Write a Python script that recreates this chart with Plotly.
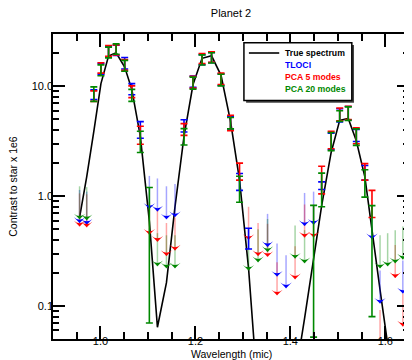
import plotly.graph_objects as go

# ---------------- data ----------------
wavelength = [0.956, 0.971, 0.986, 1.001, 1.017, 1.033, 1.051, 1.066, 1.084, 1.103,
              1.120, 1.139, 1.157, 1.176, 1.195, 1.214, 1.234, 1.254, 1.274, 1.293,
              1.312, 1.332, 1.352, 1.372, 1.391, 1.410, 1.430, 1.449, 1.466, 1.486,
              1.504, 1.522, 1.539, 1.557, 1.572, 1.589, 1.605, 1.621, 1.637]

true_spectrum = [0.64, 1.5, 3.9, 10.6, 18.9, 20.2, 15.0, 9.4, 3.5, 0.59,
                 0.064, 0.163, 0.8, 3.5, 10.4, 18.0, 19.0, 12.6, 4.8, 1.4,
                 0.22, 0.015, 0.007, 0.006, 0.008, 0.022, 0.077, 0.26, 0.82, 2.5,
                 4.9, 5.1, 3.2, 1.5, 0.47, 0.14, 0.045, 0.015, 0.01]

# value and 1-sigma error; error None => value is an upper limit; value None => no point
tloci_val = [1.14, 1.1, 8.45, 14.5, 20.8, 21.4, 16.35, 9.5, 4.07, 1.53,
             1.45, 1.23, 1.29, 4.4, 11.1, 17.6, 18.4, 11.6, 4.7, 1.37,
             0.42, None, 0.69, 0.37, 0.29, None, 1.07, 1.1, 1.25, 3.2,
             5.5, 5.75, 3.6, 1.65, 0.81, 0.21, None, None, 0.26]
tloci_err = [None, None, 0.85, 1.65, 2.3, 2.3, 1.95, 1.1, 0.7, None,
             None, None, None, 0.56, 1.3, 1.85, 1.95, 1.4, 0.6, 0.24,
             0.09, None, None, None, None, None, None, None, 0.1, 0.55,
             0.75, 0.8, 0.45, 0.25, None, None, None, None, None]

pca5_val = [1.06, 1.04, 8.2, 14.8, 21.2, 21.6, 15.8, 9.0, 3.65, 0.89,
            0.77, 0.57, 0.64, 4.08, 11.0, 18.0, 18.6, 11.8, 4.7, 1.7,
            0.80, 0.57, 0.56, 0.25, None, 0.35, 0.84, 0.84, 1.46, 3.3,
            5.6, 5.8, 3.6, 1.69, 0.885, 0.092, None, 0.36, 0.13]
pca5_err = [None, None, 0.9, 1.6, 2.4, 2.3, 1.8, 1.1, 0.68, None,
            None, None, None, 0.5, 1.35, 1.9, 2.0, 1.4, 0.75, 0.3,
            None, None, None, None, None, None, None, None, 0.41, 0.6,
            0.75, 0.8, 0.6, 0.29, 0.245, None, None, None, None]

pca20_val = [1.23, 1.21, 8.6, 14.1, 20.5, 22.0, 15.5, 8.35, 3.2, 0.635,
             0.46, 0.44, 0.44, 3.52, 10.8, 17.5, 18.3, 11.5, 4.65, 1.2,
             0.42, 0.50, 0.62, None, None, 0.54, 0.49, 0.438, 1.21, 3.2,
             5.4, 5.7, 3.5, 1.36, 0.45, 0.44, 0.46, 0.49, 0.53]
pca20_err = [None, None, 1.3, 1.6, 2.3, 2.4, 1.75, 1.05, 0.7, 0.565,
             None, None, None, 0.6, 1.35, 1.85, 1.95, 1.4, 0.55, 0.32,
             None, None, None, None, None, None, None, 0.386, 0.41, 0.6,
             0.6, 0.8, 0.6, 0.38, 0.37, None, None, None, None]

series_names = ["TLOCI", "PCA 5 modes", "PCA 20 modes"]
x_tick_vals = [1.0, 1.2, 1.4, 1.6]
x_tick_text = ["1.0", "1.2", "1.4", "1.6"]
x_minor_vals = [0.95, 1.05, 1.1, 1.15, 1.25, 1.3, 1.35, 1.45, 1.5, 1.55, 1.65]
y_tick_vals = [0.1, 1.0, 10.0]
y_tick_text = ["0.1", "1.0", "10.0"]
y_minor_vals = [0.05, 0.06, 0.07, 0.08, 0.09, 0.2, 0.3, 0.4, 0.5, 0.6, 0.7, 0.8, 0.9,
                2, 3, 4, 5, 6, 7, 8, 9, 20]

# ---------------- style ----------------
FONT = "Liberation Sans, Arial, Helvetica, sans-serif"
colors = ["#0000ff", "#ff0000", "#008800"]
pale = ["rgba(0,0,255,0.35)", "rgba(255,0,0,0.35)", "rgba(0,136,0,0.35)"]
ARROW_DROP = 2.0   # upper-limit arrows extend a factor 2 below the limit
PAGE_OFF = 8       # default body margin of the html page
W, H = 412 - PAGE_OFF, 360 - PAGE_OFF
ML, MR, MT, MB = 53 - PAGE_OFF, 1, 34 - PAGE_OFF, 29 - PAGE_OFF
PW, PH = W - ML - MR, H - MT - MB


def px_x(p):  # page pixel -> paper fraction
    return (p - PAGE_OFF - ML) / PW


def px_y(p):
    return (H - MB - (p - PAGE_OFF)) / PH


fig = go.Figure()
fig.add_trace(go.Scatter(x=wavelength, y=true_spectrum, mode="lines",
                         line=dict(color="black", width=1.6), name="True spectrum",
                         showlegend=False, hoverinfo="skip"))

all_series = [(tloci_val, tloci_err), (pca5_val, pca5_err), (pca20_val, pca20_err)]
stems, heads, bars = [], [], []
for k, (vals, errs) in enumerate(all_series):
    sx, sy, hx, hy, dx, dy, de = [], [], [], [], [], [], []
    for w, v, e in zip(wavelength, vals, errs):
        if v is None:
            continue
        if e is None:
            sx += [w, w, None]
            sy += [v, v / ARROW_DROP, None]
            hx.append(w)
            hy.append(v / ARROW_DROP)
        else:
            dx.append(w)
            dy.append(v)
            de.append(e)
    stems.append(go.Scatter(x=sx, y=sy, mode="lines", line=dict(color=pale[k], width=1.5),
                            showlegend=False, hoverinfo="skip"))
    heads.append(go.Scatter(x=hx, y=hy, mode="markers", cliponaxis=False,
                            marker=dict(symbol="arrow-wide", angle=180, size=8,
                                        color=colors[k], line=dict(width=0)),
                            showlegend=False, name=series_names[k]))
    bars.append(go.Scatter(x=dx, y=dy, mode="markers",
                           marker=dict(size=2, opacity=0, color=colors[k]),
                           error_y=dict(type="data", array=de, color=colors[k],
                                        thickness=1.6, width=3.5),
                           showlegend=False, name=series_names[k]))
for t in stems + heads + bars:
    fig.add_trace(t)

axis_common = dict(showline=True, linecolor="black", linewidth=1.5, mirror="ticks",
                   ticks="inside", tickwidth=1.5, tickcolor="black", showgrid=False,
                   zeroline=False, tickfont=dict(family=FONT, size=11, color="black"))

fig.update_xaxes(range=[0.9, 1.65], tickmode="array", tickvals=x_tick_vals,
                 ticktext=x_tick_text, ticklen=13, ticklabelstandoff=-9,
                 minor=dict(tickmode="array", tickvals=x_minor_vals, ticks="inside",
                            ticklen=7, tickwidth=1.5, tickcolor="black", showgrid=False),
                 **axis_common)
fig.update_yaxes(type="log", range=[-1.30103, 1.4771], tickmode="array",
                 tickvals=y_tick_vals, ticktext=y_tick_text, ticklen=12,
                 ticklabelstandoff=-4,
                 minor=dict(tickmode="array", tickvals=y_minor_vals, ticks="inside",
                            ticklen=6.5, tickwidth=1.5, tickcolor="black", showgrid=False),
                 **axis_common)

# legend (drawn by hand to match the compact boxed legend with shadow)
bx0, bx1, by0, by1 = 245, 353.5, 42.7, 100.5
shapes = [
    dict(type="rect", xref="paper", yref="paper", layer="above",
         x0=px_x(bx0 + 2.2), x1=px_x(bx1 + 2.2), y0=px_y(by0 + 2.2), y1=px_y(by1 + 2.2),
         fillcolor="#444444", line=dict(width=0)),
    dict(type="rect", xref="paper", yref="paper", layer="above",
         x0=px_x(bx0), x1=px_x(bx1), y0=px_y(by0), y1=px_y(by1),
         fillcolor="white", line=dict(color="black", width=1.5)),
    dict(type="line", xref="paper", yref="paper", layer="above",
         x0=px_x(250), x1=px_x(280.5), y0=px_y(53), y1=px_y(53),
         line=dict(color="black", width=1.6)),
]
legend_labels = ["True spectrum"] + series_names
legend_colors = ["black"] + colors
legend_rows = [53, 65.2, 77.2, 89]
annotations = []
for lab, col, ry in zip(legend_labels, legend_colors, legend_rows):
    annotations.append(dict(text="<b>" + lab + "</b>", xref="paper", yref="paper",
                            x=px_x(284), y=px_y(ry), xanchor="left", yanchor="middle",
                            showarrow=False, font=dict(family=FONT, size=8.7, color=col)))
annotations.append(dict(text="Wavelength (mic)", xref="paper", yref="paper",
                        x=0.5, y=px_y(353.5), xanchor="center", yanchor="middle",
                        showarrow=False, font=dict(family=FONT, size=10.5, color="black")))
annotations.append(dict(text="Contrast to star x 1e6", xref="paper", yref="paper",
                        x=px_x(12), y=0.5, xanchor="center", yanchor="middle",
                        textangle=-90, showarrow=False,
                        font=dict(family=FONT, size=10.5, color="black")))

fig.update_layout(
    width=W, height=H, autosize=False,
    margin=dict(l=ML, r=MR, t=MT, b=MB, pad=0),
    paper_bgcolor="white", plot_bgcolor="white",
    title=dict(text="Planet 2", x=0.5, xref="paper", xanchor="center",
               y=1 - (13 - PAGE_OFF) / H, yref="container", yanchor="middle",
               font=dict(family=FONT, size=11, color="black")),
    shapes=shapes, annotations=annotations, showlegend=False,
)

fig.write_html("out.html")
